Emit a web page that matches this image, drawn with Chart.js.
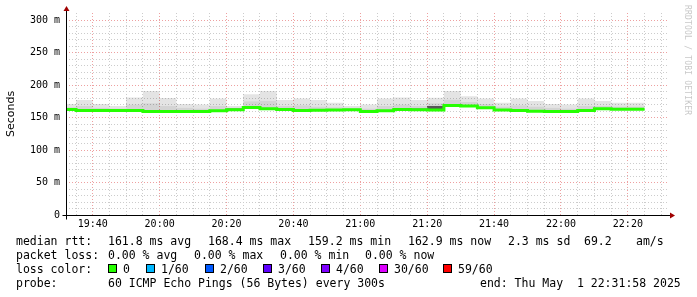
<!DOCTYPE html>
<html>
<head>
<script src="https://cdn.jsdelivr.net/npm/chart.js@4.4.1/dist/chart.umd.min.js"></script>
<style>
  * { margin: 0; padding: 0; box-sizing: border-box; }
  body {
    width: 697px; height: 297px; background: #fff;
    position: relative; overflow: hidden;
    font-family: 'DejaVu Sans Mono', monospace; color: #000;
  }
  #wrap { position: absolute; left: 0; top: 0; width: 697px; height: 297px; }
  .t { position: absolute; font-size: 11.5px; line-height: 14px; white-space: pre; }
  .box { position: absolute; width: 9px; height: 9px; border: 1px solid #000; }
  #mark {
    position: absolute; left: 683px; top: 5px;
    writing-mode: vertical-rl; font-size: 8px; color: #c8c8c8;
    font-family: 'DejaVu Sans Mono', monospace; letter-spacing: 0.2px;
  }
</style>
</head>
<body>
<div id="wrap"><canvas id="c"></canvas></div>
<div id="mark">RRDTOOL / TOBI OETIKER</div>
<div id="legend"></div>

<script>
// 5 minute steps, start times (last entry = end of last step)
const stepTimes = ['19:30','19:35','19:40','19:45','19:50','19:55','20:00','20:05','20:10','20:15',
  '20:20','20:25','20:30','20:35','20:40','20:45','20:50','20:55','21:00','21:05',
  '21:10','21:15','21:20','21:25','21:30','21:35','21:40','21:45','21:50','21:55',
  '22:00','22:05','22:10','22:15','22:20','22:25'];

// median rtt (ms)
const medianRtt = [164.0,162.6,160.8,160.8,160.8,160.8,159.2,159.2,159.2,159.2,
  160.5,162.0,165.4,163.4,162.3,161.0,161.3,161.5,162.0,159.2,
  160.5,162.6,162.0,161.5,168.4,167.8,165.0,161.5,161.0,159.7,
  159.2,159.2,160.8,163.4,162.9];
// top of dark inner smoke
const smokeDark = [164.0,162.6,160.8,160.8,160.8,160.8,159.2,159.2,159.2,159.2,
  160.5,163.8,165.4,163.4,162.3,161.0,161.3,161.5,162.0,160.0,
  160.5,162.6,163.8,168.0,168.4,167.8,165.0,162.2,161.0,159.7,
  159.2,159.2,162.3,163.4,162.9];
// top of medium smoke
const smokeMid = [166,166,168,165,164,170,172,168,165,164,
  168,165,175,176,168,169,167,166,165,164,
  168,170,168,172,178,174,171,167,169,167,
  165,164,168,168,167];
// max of pings (top of light smoke)
const smokeMax = [168,171,177,171,168,181,191,180,171,170,
  179.5,168,186,191,177,179.5,177,173,168,170,
  179.5,181,177,180.5,191,183,179.5,173,179.5,175.4,
  170.8,170,179.5,175.4,173];

const xMin = '19:32', xMax = '22:32';
const gridTimes = ['19:35','19:40','19:45','19:50','19:55','20:00','20:05','20:10','20:15','20:20',
  '20:25','20:30','20:35','20:40','20:45','20:50','20:55','21:00','21:05','21:10',
  '21:15','21:20','21:25','21:30','21:35','21:40','21:45','21:50','21:55','22:00',
  '22:05','22:10','22:15','22:20','22:25','22:30'];
const majorTimeLabels = ['19:40','20:00','20:20','20:40','21:00','21:20','21:40','22:00','22:20'];
const yTickLabels = ['0','50 m','100 m','150 m','200 m','250 m','300 m'];

const lossLabels = ['0','1/60','2/60','3/60','4/60','30/60','59/60'];
const lossColors = ['#26ff00','#00b8ff','#0059ff','#5e00ff','#7e00ff','#dd00ff','#ff0000'];

const toMin = s => { const [h, m] = s.split(':').map(Number); return h * 60 + m; };
const fmt = v => String(Math.floor(v / 60)).padStart(2, '0') + ':' + String(v % 60).padStart(2, '0');
const pts = arr => stepTimes.map((t, i) => ({ x: toMin(t), y: arr[Math.min(i, arr.length - 1)] }));

const minorGrid = '#cccccc';
const majorGrid = '#eea0a0';
const mono = 'DejaVu Sans Mono';

const band = (data, fill, color) => ({
  data: pts(data), fill: fill, backgroundColor: color, borderWidth: 0,
  pointRadius: 0, stepped: 'after'
});

const axisLines = {
  id: 'axisLines',
  afterDraw(chart) {
    const { ctx, chartArea: a } = chart;
    const x0 = Math.round(a.left) + 0.5, y0 = Math.round(a.bottom) + 0.5;
    ctx.save();
    ctx.strokeStyle = '#000';
    ctx.lineWidth = 1;
    ctx.beginPath();
    ctx.moveTo(x0, y0 + 4); ctx.lineTo(x0, a.top - 3);
    ctx.moveTo(x0 - 4, y0); ctx.lineTo(a.right + 2, y0);
    ctx.stroke();
    ctx.fillStyle = '#a00000';
    ctx.beginPath();
    ctx.moveTo(x0, a.top - 7); ctx.lineTo(x0 - 3, a.top - 2); ctx.lineTo(x0 + 3, a.top - 2);
    ctx.closePath(); ctx.fill();
    ctx.beginPath();
    ctx.moveTo(a.right + 7, y0); ctx.lineTo(a.right + 2, y0 - 3); ctx.lineTo(a.right + 2, y0 + 3);
    ctx.closePath(); ctx.fill();
    ctx.restore();
  }
};

new Chart(document.getElementById('c'), {
  type: 'line',
  data: {
    datasets: [
      { data: pts(medianRtt), borderColor: lossColors[0], borderWidth: 3, pointRadius: 0,
        stepped: 'after', fill: false },
      band(smokeDark, 0, 'rgba(0,0,0,0.66)'),
      band(smokeMid, 1, 'rgba(0,0,0,0.17)'),
      band(smokeMax, 2, 'rgba(0,0,0,0.105)')
    ]
  },
  options: {
    responsive: true,
    maintainAspectRatio: false,
    animation: false,
    layout: { padding: { left: 0, top: 13, right: 29, bottom: 62 } },
    plugins: { legend: { display: false }, tooltip: { enabled: false } },
    scales: {
      x: {
        type: 'linear', min: toMin(xMin), max: toMin(xMax),
        afterBuildTicks: s => { s.ticks = gridTimes.map(t => ({ value: toMin(t) })); },
        afterFit: s => { s.height = 20; },
        ticks: {
          autoSkip: false, maxRotation: 0, padding: 3,
          color: '#000', font: { family: mono, size: 10 },
          callback: v => majorTimeLabels.includes(fmt(v)) ? fmt(v) : ''
        },
        grid: {
          drawTicks: false,
          color: c => (c.tick && c.tick.value % 20 === 0) ? majorGrid : minorGrid
        },
        border: { display: false, dash: [1, 2] }
      },
      y: {
        min: 0, max: 311,
        afterBuildTicks: s => { s.ticks = s.ticks.filter(t => t.value % 10 === 0); },
        afterFit: s => { s.width = 66; },
        ticks: {
          stepSize: 10, autoSkip: false, padding: 6,
          color: '#000', font: { family: mono, size: 10 },
          callback: v => v % 50 === 0 ? yTickLabels[v / 50] : ''
        },
        grid: {
          drawTicks: false,
          color: c => (c.tick && c.tick.value % 50 === 0) ? majorGrid : minorGrid
        },
        border: { display: false, dash: [1, 2] },
        title: {
          display: true, text: 'Seconds', color: '#000',
          font: { family: 'DejaVu Sans', size: 11 }, padding: { top: 5, bottom: 0 }
        }
      }
    }
  },
  plugins: [axisLines]
});

// legend text block
const legend = document.getElementById('legend');
function text(x, y, s) {
  const d = document.createElement('div');
  d.className = 't';
  d.style.left = x + 'px';
  d.style.top = (y - 7) + 'px';
  d.textContent = s;
  legend.appendChild(d);
}
text(16, 241, 'median rtt:');
text(108, 241, '161.8 ms avg');
text(208, 241, '168.4 ms max');
text(308, 241, '159.2 ms min');
text(408, 241, '162.9 ms now');
text(508, 241, '2.3 ms sd');
text(584, 241, '69.2');
text(636, 241, 'am/s');

text(16, 255, 'packet loss:');
text(108, 255, '0.00 % avg');
text(194, 255, '0.00 % max');
text(280, 255, '0.00 % min');
text(365, 255, '0.00 % now');

text(16, 269, 'loss color:');
const boxX = [108, 146, 205, 263, 321, 379, 443];
lossLabels.forEach((l, i) => {
  const b = document.createElement('div');
  b.className = 'box';
  b.style.left = boxX[i] + 'px';
  b.style.top = '264px';
  b.style.background = lossColors[i];
  legend.appendChild(b);
  text(boxX[i] + 15, 269, l);
});

text(16, 283, 'probe:');
text(108, 283, '60 ICMP Echo Pings (56 Bytes) every 300s');
text(480, 283, 'end: Thu May  1 22:31:58 2025');
</script>
</body>
</html>
